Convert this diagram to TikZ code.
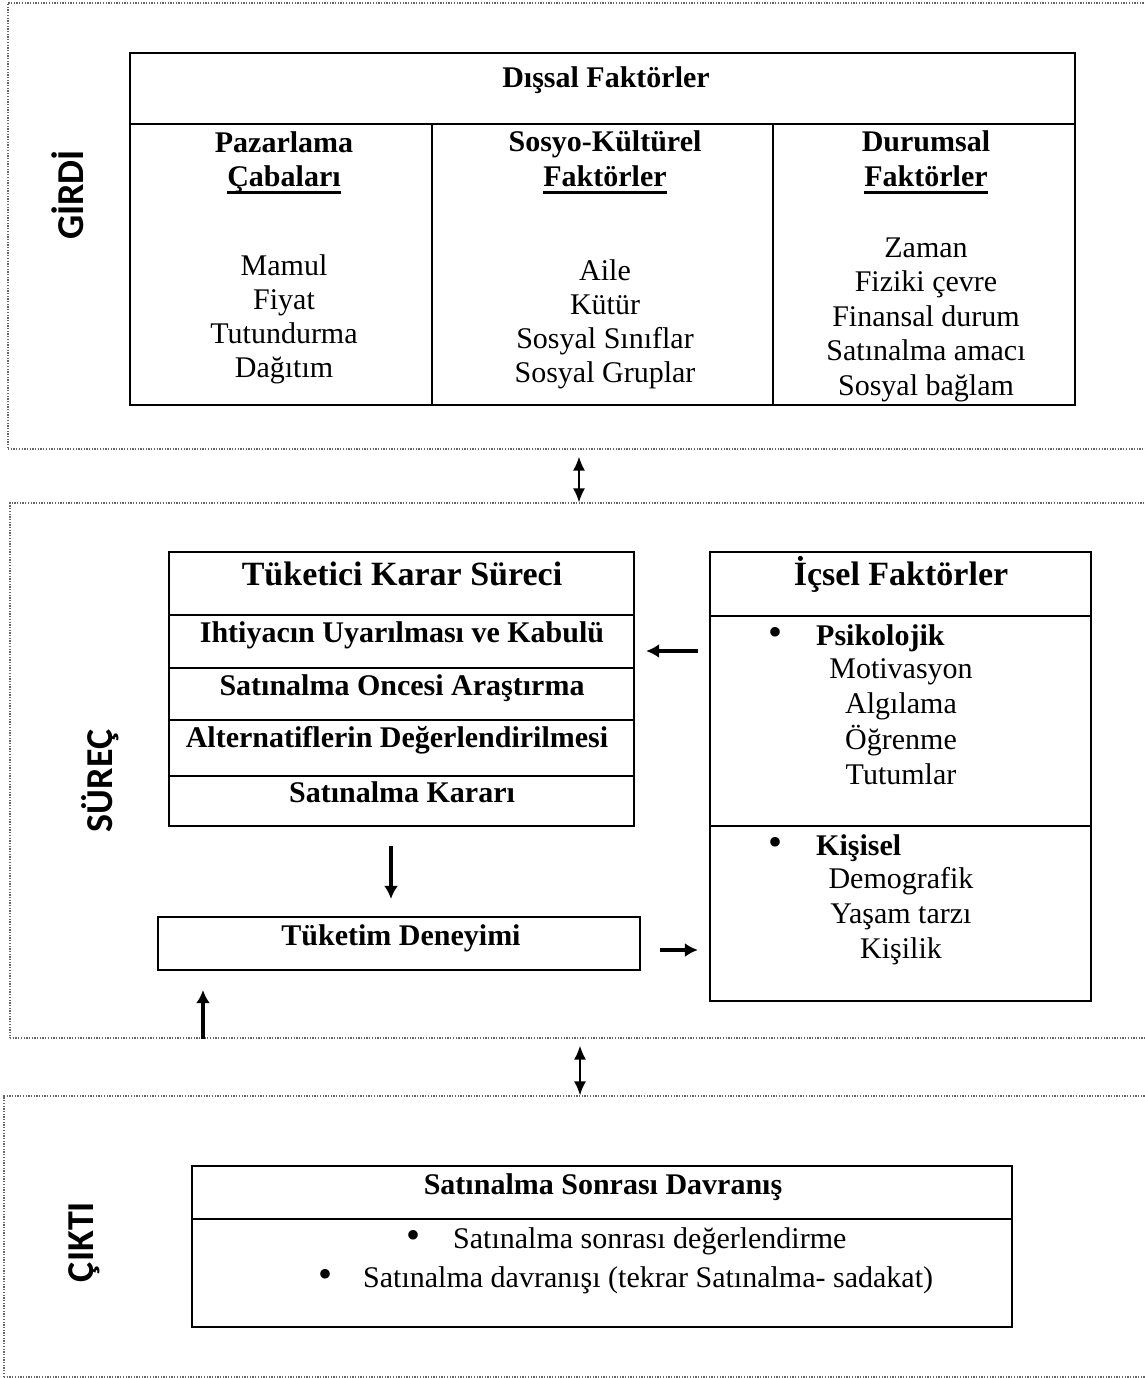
\documentclass[tikz,border=0pt]{standalone}
\usepackage{fontspec}
\setmainfont{Liberation Serif}
\newfontfamily\lblfont{Carlito}
\usetikzlibrary{arrows.meta,fit}
% underline drawn as a bar below the baseline
\newcommand\ulbar[1]{\sbox0{#1}\rlap{\rule[-7.5pt]{\wd0}{2.4pt}}\usebox0}
\begin{document}
\begin{tikzpicture}[x=1pt,y=-1pt,
  zone/.style={draw=black!60, line width=1.3pt, dash pattern=on 1.3pt off 1.4pt, inner sep=0pt},
  tbl/.style={draw=black, line width=2.2pt, inner sep=0pt},
  rule/.style={line width=2.2pt},
  txt/.style={inner sep=0pt, anchor=base, font=\fontsize{30}{34.5}\selectfont},
  btxt/.style={txt, font=\fontsize{30}{34.5}\selectfont\bfseries},
  bul/.style={txt, font=\fontsize{40}{40}\selectfont},
  head/.style={txt, font=\fontsize{34}{40}\selectfont\bfseries},
  lbl/.style={inner sep=0pt, anchor=base, rotate=90, font=\fontsize{38}{44}\selectfont\lblfont\bfseries},
  flow/.style={line width=3.2pt, -{Latex[length=13pt,width=14pt]}},
  link/.style={line width=1.6pt, {Latex[length=14pt,width=12pt]}-{Latex[length=14pt,width=12pt]}},
]
\useasboundingbox (0,0) rectangle (1145,1378);

% three stages
\node[zone, fit={(8,3) (1152,449)}] (zin) {};
\node[zone, fit={(10,503) (1152,1038)}] (zproc) {};
\node[zone, fit={(4,1096) (1152,1377)}] (zout) {};

\node[lbl] (lin) at (83,195) {GİRDİ};
\node[lbl] (lproc) at (112,781) {SÜREÇ};
\node[lbl] (lout) at (93,1242) {ÇIKTI};

% external factors table
\node[tbl, fit={(130,53) (1075,405)}] (ext) {};
\draw[rule] (130,124) -- (1075,124);
\draw[rule] (432,124) -- (432,405);
\draw[rule] (773,124) -- (773,405);
\node[btxt] (extT) at (606,88) {Dışsal Faktörler};
\node[btxt] (h1a) at (284,152) {Pazarlama};
\node[btxt] (h1b) at (284,186) {\ulbar{Çabaları}};
\node[btxt] (h2a) at (605,151) {Sosyo-Kültürel};
\node[btxt] (h2b) at (605,186) {\ulbar{Faktörler}};
\node[btxt] (h3a) at (926,151) {Durumsal};
\node[btxt] (h3b) at (926,186) {\ulbar{Faktörler}};
\foreach \w [count=\i] in {Mamul,Fiyat,Tutundurma,Dağıtım}
  \node[txt] (pz\i) at (284,{275+34.3*(\i-1)}) {\w};
\foreach \w [count=\i] in {Aile,Kütür,Sosyal Sınıflar,Sosyal Gruplar}
  \node[txt] (sk\i) at (605,{280+34*(\i-1)}) {\w};
\foreach \w [count=\i] in {Zaman,Fiziki çevre,Finansal durum,Satınalma amacı,Sosyal bağlam}
  \node[txt] (dm\i) at (926,{257+34.5*(\i-1)}) {\w};

% decision process
\node[tbl, fit={(169,552) (634,826)}] (dec) {};
\foreach \yy in {615,668,720,776} \draw[rule] (169,\yy) -- (634,\yy);
\node[head] (decT) at (402,585) {Tüketici Karar Süreci};
\node[btxt] (d1) at (402,642) {Ihtiyacın Uyarılması ve Kabulü};
\node[btxt] (d2) at (402,695) {Satınalma Oncesi Araştırma};
\node[btxt] (d3) at (397,747) {Alternatiflerin Değerlendirilmesi};
\node[btxt] (d4) at (402,802) {Satınalma Kararı};

% internal factors
\node[tbl, fit={(710,552) (1091,1001)}] (int) {};
\draw[rule] (710,616) -- (1091,616);
\draw[rule] (710,826) -- (1091,826);
\node[head] (intT) at (901,585) {İçsel Faktörler};
\node[bul] (b1) at (775,645) {\textbullet};
\node[btxt, anchor=base west] (ps) at (816,645) {Psikolojik};
\foreach \w [count=\i] in {Motivasyon,Algılama,Öğrenme,Tutumlar}
  \node[txt] (ps\i) at (901,{678+35.5*(\i-1)}) {\w};
\node[bul] (b2) at (775,855) {\textbullet};
\node[btxt, anchor=base west] (ks) at (816,855) {Kişisel};
\foreach \w [count=\i] in {Demografik,Yaşam tarzı,Kişilik}
  \node[txt] (ks\i) at (901,{888+35*(\i-1)}) {\w};

% consumption experience
\node[tbl, fit={(158,917) (640,970)}] (exp) {};
\node[btxt] (expT) at (401,945) {Tüketim Deneyimi};

% post-purchase behaviour
\node[tbl, fit={(192,1166) (1012,1327)}] (post) {};
\draw[rule] (192,1219) -- (1012,1219);
\node[btxt] (postT) at (603,1194) {Satınalma Sonrası Davranış};
\node[bul] (pb1) at (413,1248) {\textbullet};
\node[txt, anchor=base west] (p1) at (453,1248) {Satınalma sonrası değerlendirme};
\node[bul] (pb2) at (325,1287) {\textbullet};
\node[txt, anchor=base west] (p2) at (363,1287) {Satınalma davranışı (tekrar Satınalma- sadakat)};

% connectors
\coordinate (ax1) at (579,0);
\coordinate (ax2) at (580,0);
\coordinate (ax3) at (391,0);
\coordinate (ax4) at (203,0);
\coordinate (ay1) at (0,651);
\coordinate (ay2) at (0,950);
\draw[link, shorten <=7pt] (zin.south -| ax1) -- (zproc.north -| ax1);
\draw[link, shorten <=7pt] (zproc.south -| ax2) -- (zout.north -| ax2);
\draw[flow, shorten <=11pt, shorten >=11pt] (int.west |- ay1) -- (dec.east |- ay1);
\draw[flow, shorten <=19pt, shorten >=17pt] (dec.south -| ax3) -- (exp.north -| ax3);
\draw[flow, shorten <=19pt, shorten >=11pt] (exp.east |- ay2) -- (int.west |- ay2);
\draw[flow, shorten >=19pt] (zproc.south -| ax4) -- (exp.south -| ax4);
\end{tikzpicture}
\end{document}
